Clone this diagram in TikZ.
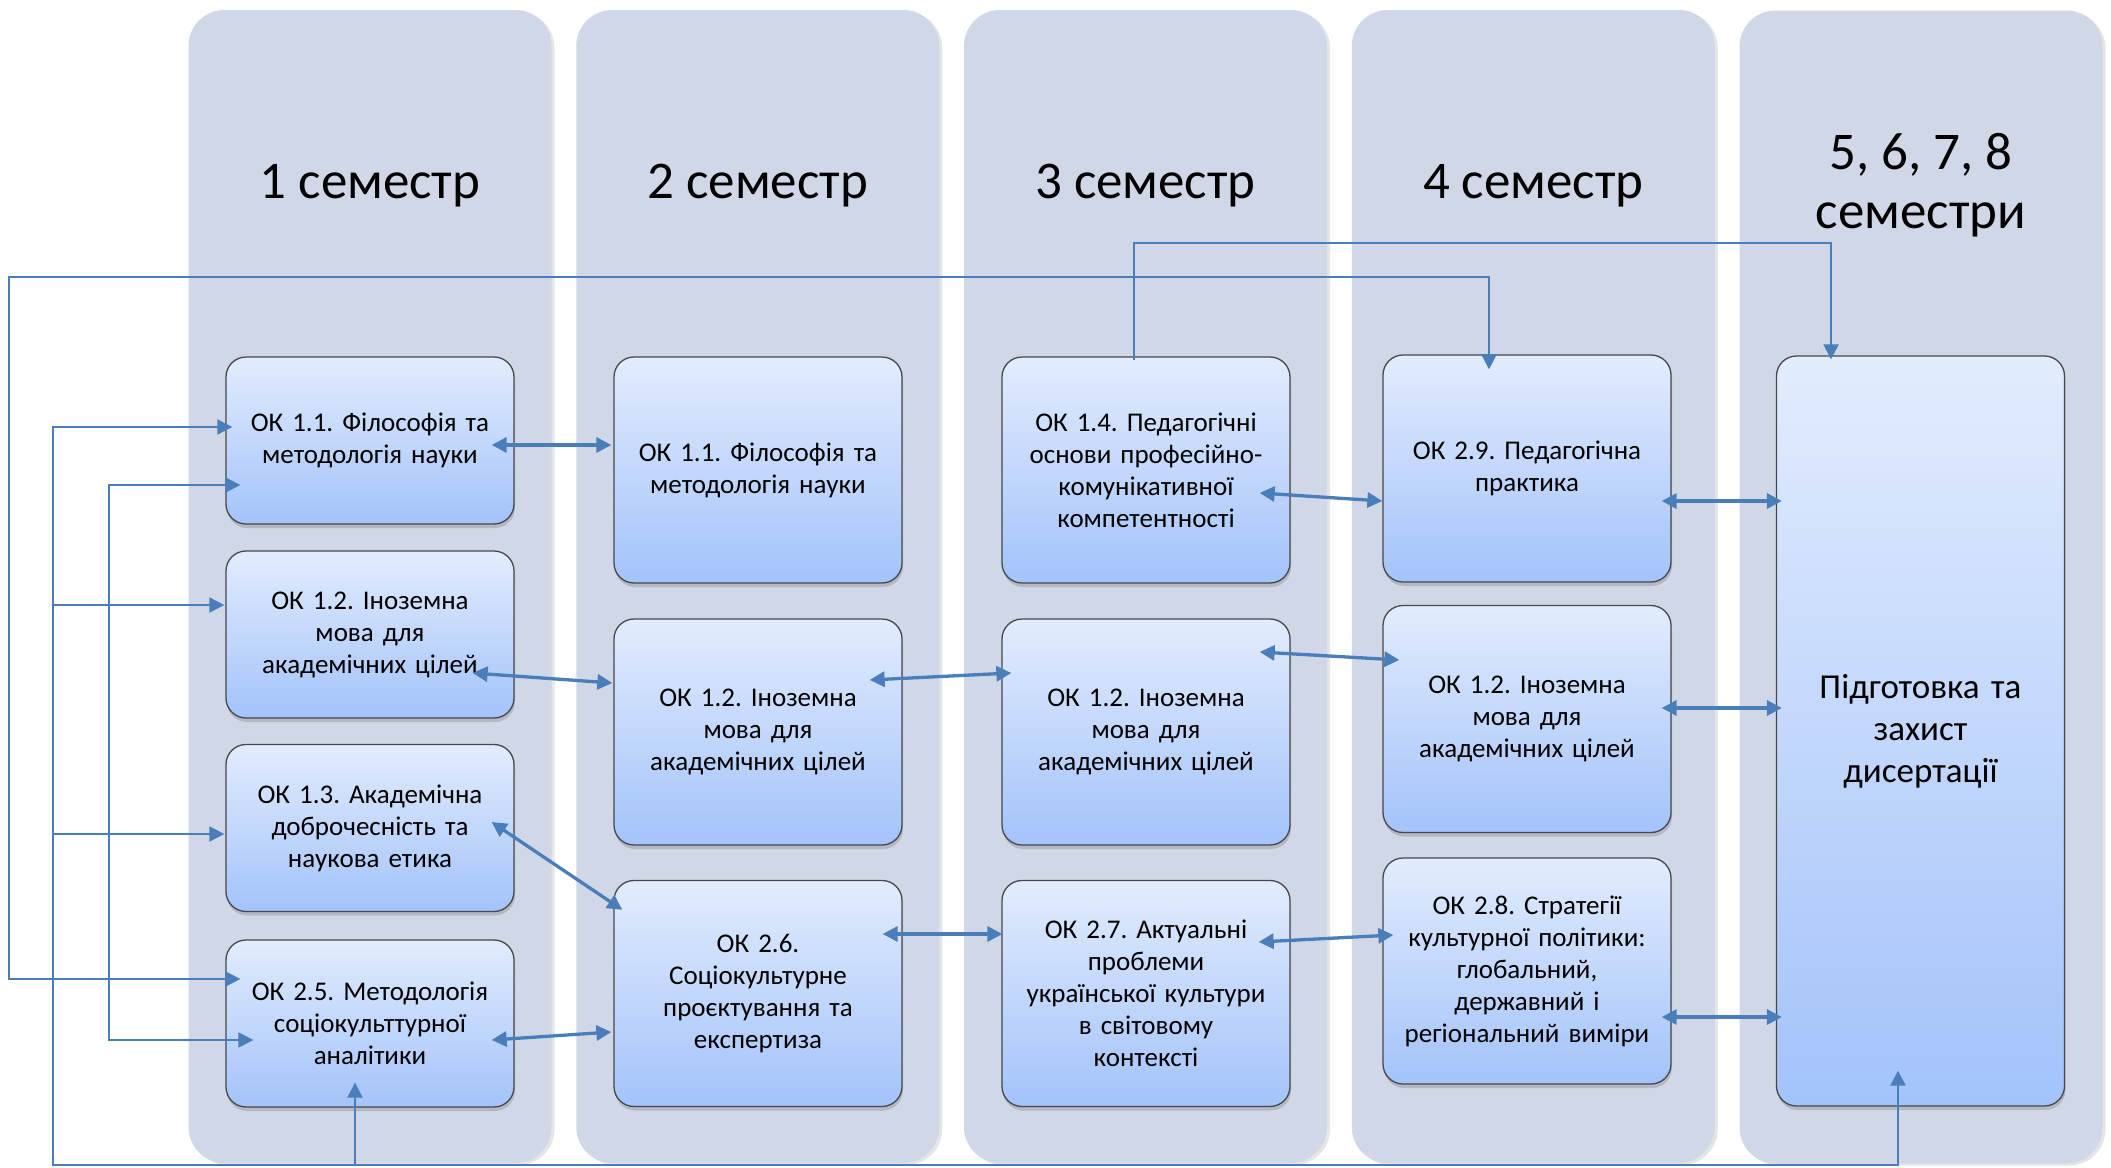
\documentclass[tikz,border=0pt]{standalone}
\usepackage{fontspec}
\setmainfont{Carlito}
\usetikzlibrary{arrows.meta,calc,shadows}
\frenchspacing

\definecolor{lanegray}{RGB}{208,215,230}
\definecolor{boxtop}{RGB}{226,236,253}
\definecolor{boxbottom}{RGB}{163,195,250}
\definecolor{boxrim}{RGB}{70,72,78}
\definecolor{linkblue}{RGB}{74,126,187}

\tikzset{
    lane/.style =   {rectangle,
                    rounded corners=36pt,
                    fill=lanegray,
                    minimum width=363pt,
                    minimum height=1153pt,
                    drop shadow={shadow xshift=3pt, shadow yshift=-2pt, opacity=0.2}},
    header/.style = {font=\fontsize{53}{59}\selectfont,
                    align=center},
    course/.style = {rectangle,
                    rounded corners=20pt,
                    draw=boxrim,
                    line width=1.3pt,
                    top color=boxtop,
                    bottom color=boxbottom,
                    minimum width=288pt,
                    text width=280pt,
                    inner sep=4pt,
                    align=center,
                    font=\fontsize{27}{32}\selectfont,
                    drop shadow={shadow xshift=1pt, shadow yshift=-4pt, opacity=0.35}},
    link/.style =   {color=linkblue,
                    line width=3.3pt,
                    <->},
    wire/.style =   {color=linkblue,
                    line width=2pt},
    >={Triangle[length=15pt,width=15pt]}
}

\begin{document}
\begin{tikzpicture}[x=1pt,y=-1pt]
    \useasboundingbox[fill=white] (0,0) rectangle (2111,1167);

    % semester lanes
    \node[lane] (lane1) at (370,586.5)    {};
    \node[lane] (lane2) at (757.75,586.5) {};
    \node[lane] (lane3) at (1145.5,586.5) {};
    \node[lane] (lane4) at (1533.25,586.5) {};
    \node[lane] (lane5) at (1921,587)     {};

    \node[header,anchor=base] (t1) at (370,198)     {1 семестр};
    \node[header,anchor=base] (t2) at (757.75,198)  {2 семестр};
    \node[header,anchor=base] (t3) at (1145.5,198)  {3 семестр};
    \node[header,anchor=base] (t4) at (1533.25,198) {4 семестр};
    \node[header] (t5) at (1921,185) {5, 6, 7, 8\\ семестри};

    % courses
    \node[course,minimum height=167pt] (a11) at (370,440.5)  {ОК 1.1. Філософія та\\ методологія науки};
    \node[course,minimum height=167pt] (a12) at (370,634.5)  {ОК 1.2. Іноземна\\ мова для\\ академічних цілей};
    \node[course,minimum height=167pt] (a13) at (370,828)    {ОК 1.3. Академічна\\ доброчесність та\\ наукова етика};
    \node[course,minimum height=167pt] (a25) at (370,1023.5) {ОК 2.5. Методологія\\ соціокульттурної\\ аналітики};

    \node[course,minimum height=226pt] (b11) at (758,470)    {ОК 1.1. Філософія та\\ методологія науки};
    \node[course,minimum height=226pt] (b12) at (758,732)    {ОК 1.2. Іноземна\\ мова для\\ академічних цілей};
    \node[course,minimum height=226pt] (b26) at (758,993.5)  {ОК 2.6.\\ Соціокультурне\\ проєктування та\\ експертиза};

    \node[course,minimum height=226pt] (c14) at (1146,470)   {ОК 1.4. Педагогічні\\ основи професійно-\\ комунікативної\\ компетентності};
    \node[course,minimum height=226pt] (c12) at (1146,732)   {ОК 1.2. Іноземна\\ мова для\\ академічних цілей};
    \node[course,minimum height=226pt] (c27) at (1146,993.5) {ОК 2.7. Актуальні\\ проблеми\\ української культури\\ в світовому\\ контексті};

    \node[course,minimum height=227pt] (d29) at (1527,468.5) {ОК 2.9. Педагогічна\\ практика};
    \node[course,minimum height=227pt] (d12) at (1527,719)   {ОК 1.2. Іноземна\\ мова для\\ академічних цілей};
    \node[course,minimum height=226pt] (d28) at (1527,971)   {ОК 2.8. Стратегії\\ культурної політики:\\ глобальний,\\ державний і\\ регіональний виміри};

    \node[course,minimum height=750pt,font=\fontsize{35}{42}\selectfont] (e) at (1920.5,731) {Підготовка та\\ захист\\ дисертації};

    % straight links
    \path[link] ($(a11.east)+(-23,4.5)$)  edge ($(b11.west)+(-2,-25)$)
                ($(a12.east)+(-42,38.5)$) edge ($(b12.west)+(-1,-49)$)
                ($(a13.east)+(-23,-6)$)   edge ($(b26.north west)+(9,30)$)
                ($(a25.east)+(-23,16.5)$) edge ($(b26.west)+(-2,38.5)$)
                ($(b12.east)+(-33,-52)$)  edge ($(c12.west)+(10,-59)$)
                ($(b26.east)+(-20,-59.5)$) edge ($(c27.west)+(1,-59.5)$)
                ($(c14.east)+(-31,23)$)   edge ($(d29.west)+(0,32.5)$)
                ($(c12.east)+(-31,-80)$)  edge ($(d12.west)+(17,-59)$)
                ($(c27.east)+(-32,-51.5)$) edge ($(d28.west)+(11,-36)$)
                ($(d29.east)+(-10,32.5)$) edge ($(e.west)+(6,-230)$)
                ($(d12.east)+(-10,-11)$)  edge ($(e.west)+(6,-23)$)
                ($(d28.east)+(-10,46)$)   edge ($(e.west)+(6,286)$);

    % ports and rails of the elbow wires
    \path ($(c14.north)+(-12,4)$)    coordinate (c14up)
          ($(e.north)+(-89.5,4)$)    coordinate (eup)
          ($(d29.north)+(-38,15)$)   coordinate (d29up)
          ($(a25.west)+(15,-44.5)$)  coordinate (a25l)
          ($(a11.west)+(7,-13.5)$)   coordinate (a11l)
          ($(a12.west)+(-1,-29.5)$)  coordinate (a12l)
          ($(a13.west)+(-1,6)$)      coordinate (a13l)
          ($(a25.south)+(-15,-25)$)  coordinate (a25dn)
          ($(e.south)+(-22.5,-36)$)  coordinate (edn)
          ($(a11.west)+(15,44.5)$)   coordinate (a11b)
          ($(a25.west)+(28,16.5)$)   coordinate (a25b);
    \coordinate (topline) at (0,243);
    \coordinate (railC) at (9,277);
    \coordinate (railA) at (53,1165);
    \coordinate (railB) at (109,1040);

    % elbow wires
    \draw[wire,->]  (c14up) |- (topline -| eup) -- (eup);
    \draw[wire,<->] (a25l) -| (railC) -| (d29up);
    \draw[wire,<->] (a11l) -| (railA) -| (edn);
    \draw[wire,->]  (railA |- a12l) -- (a12l);
    \draw[wire,->]  (railA |- a13l) -- (a13l);
    \draw[wire,->]  (railA -| a25dn) -- (a25dn);
    \draw[wire,<->] (a11b) -| (railB) -- (a25b);
\end{tikzpicture}
\end{document}
